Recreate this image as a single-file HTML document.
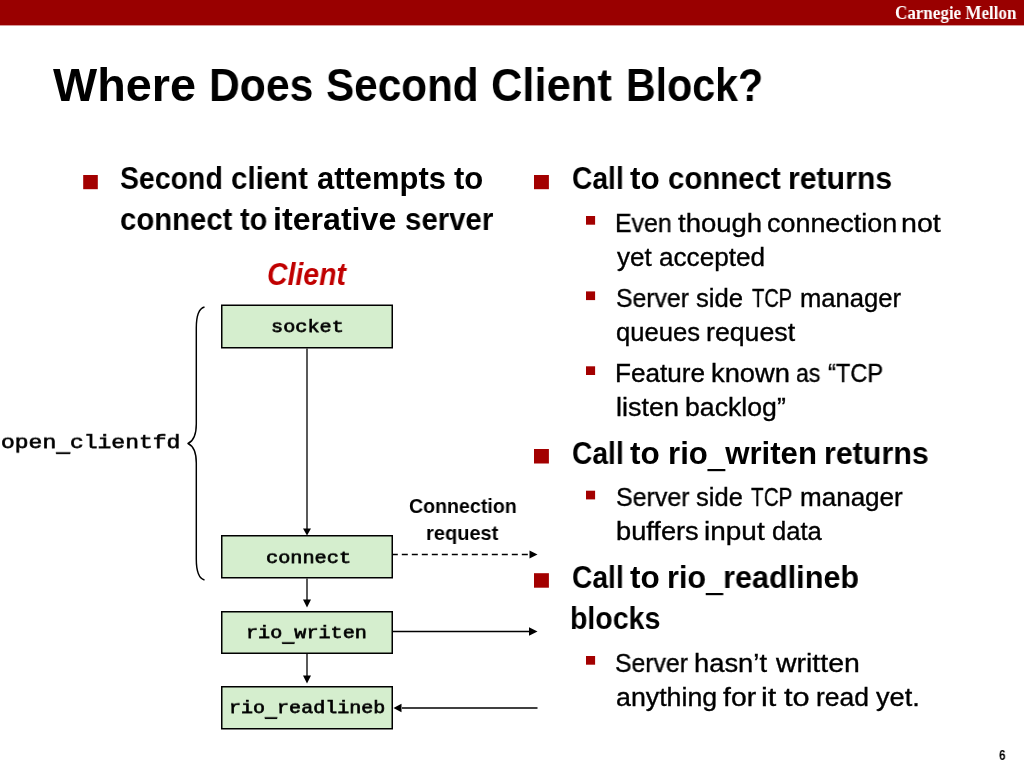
<!DOCTYPE html>
<html><head><meta charset="utf-8"><title>Where Does Second Client Block?</title>
<style>
html,body{margin:0;padding:0;background:#fff;}
body{width:1024px;height:768px;position:relative;overflow:hidden;}
.bar{position:absolute;left:0;top:0;width:1024px;height:25px;background:#990000;}
.dg{position:absolute;left:0;top:0;}
.t{position:absolute;white-space:pre;transform-origin:0 0;will-change:transform;}
.us{position:relative;top:1.5px;text-shadow:0 1px 0 #000;}
.u{position:relative;top:4px;text-shadow:0 1px 0 #000;}
</style></head><body>
<svg class="dg" width="1024" height="768" viewBox="0 0 1024 768">
<rect x="0" y="0" width="1024" height="25.4" fill="#990000"/>
<g fill="#d5eece" stroke="#000" stroke-width="1.5">
<rect x="221.75" y="305.25" width="170.5" height="42.5"/>
<rect x="221.75" y="535.75" width="170.5" height="42"/>
<rect x="221.75" y="611.75" width="170.5" height="41.5"/>
<rect x="221.75" y="686.75" width="170.5" height="42"/>
</g>
<g stroke="#000" stroke-width="1.3" fill="none">
<line x1="307" y1="348.5" x2="307" y2="529"/>
<line x1="307" y1="578.5" x2="307" y2="600"/>
<line x1="307" y1="653.5" x2="307" y2="676"/>
<line x1="393" y1="631.5" x2="530" y2="631.5"/>
<line x1="402" y1="708" x2="537.5" y2="708"/>
<line x1="393" y1="554.5" x2="530" y2="554.5" stroke-dasharray="6 4" stroke-dashoffset="1.2" stroke-width="1.5"/>
<path d="M204.5 307 C199.5 308.3 196.3 315 196.3 328 L196.3 424 C196.3 434 193.5 441 188 443.5 C193.5 446 196.3 453 196.3 463 L196.3 559 C196.3 572 199.5 578.7 204.5 580" stroke-width="1.45" stroke-linejoin="round"/>
</g>
<g fill="#000">
<path d="M303 528.5 L311 528.5 L307 535.5 Z"/>
<path d="M303 599.5 L311 599.5 L307 607.5 Z"/>
<path d="M303 675.5 L311 675.5 L307 683.5 Z"/>
<path d="M529 627.3 L537.5 631.5 L529 635.7 Z"/>
<path d="M529.5 550.6 L537.5 554.5 L529.5 558.4 Z"/>
<path d="M401.5 703.8 L393.5 708 L401.5 712.2 Z"/>
</g>
<g fill="#a30000">
<rect x="83.2" y="175" width="14.6" height="14.2"/>
<rect x="534" y="175" width="14.9" height="14.2"/>
<rect x="534" y="449" width="14.9" height="14.5"/>
<rect x="534" y="573.2" width="14.9" height="14.5"/>
<rect x="586" y="216" width="9.1" height="8.7"/>
<rect x="586" y="291.4" width="9.1" height="8.7"/>
<rect x="586" y="366.3" width="9.1" height="8.7"/>
<rect x="586" y="490.7" width="9.1" height="8.7"/>
<rect x="586" y="656" width="9.1" height="8.7"/>
</g>
</svg>
<div class="t" style='left:894.74px;top:5.00px;font-family:"Liberation Serif", serif;font-weight:bold;font-style:normal;font-size:17.9px;line-height:17.9px;color:#ffffff;transform:scaleX(0.9511)'>Carnegie Mellon</div>
<div class="t" style='left:53.25px;top:62.20px;font-family:"Liberation Sans", sans-serif;font-weight:bold;font-style:normal;font-size:46.5px;line-height:46.5px;color:#000;transform:scaleX(1.0057)'>Where</div>
<div class="t" style='left:208.58px;top:62.20px;font-family:"Liberation Sans", sans-serif;font-weight:bold;font-style:normal;font-size:46.5px;line-height:46.5px;color:#000;transform:scaleX(0.9181)'>Does</div>
<div class="t" style='left:325.59px;top:62.20px;font-family:"Liberation Sans", sans-serif;font-weight:bold;font-style:normal;font-size:46.5px;line-height:46.5px;color:#000;transform:scaleX(0.9087)'>Second</div>
<div class="t" style='left:490.64px;top:62.20px;font-family:"Liberation Sans", sans-serif;font-weight:bold;font-style:normal;font-size:46.5px;line-height:46.5px;color:#000;transform:scaleX(0.9354)'>Client</div>
<div class="t" style='left:626.18px;top:62.20px;font-family:"Liberation Sans", sans-serif;font-weight:bold;font-style:normal;font-size:46.5px;line-height:46.5px;color:#000;transform:scaleX(0.8841)'>Block?</div>
<div class="t" style='left:120.46px;top:164.20px;font-family:"Liberation Sans", sans-serif;font-weight:bold;font-style:normal;font-size:30.8px;line-height:30.8px;color:#000;transform:scaleX(0.9238)'>Second</div>
<div class="t" style='left:230.68px;top:164.20px;font-family:"Liberation Sans", sans-serif;font-weight:bold;font-style:normal;font-size:30.8px;line-height:30.8px;color:#000;transform:scaleX(0.9555)'>client</div>
<div class="t" style='left:316.72px;top:164.20px;font-family:"Liberation Sans", sans-serif;font-weight:bold;font-style:normal;font-size:30.8px;line-height:30.8px;color:#000;transform:scaleX(1.0053)'>attempts</div>
<div class="t" style='left:454.30px;top:164.20px;font-family:"Liberation Sans", sans-serif;font-weight:bold;font-style:normal;font-size:30.8px;line-height:30.8px;color:#000;transform:scaleX(1.0084)'>to</div>
<div class="t" style='left:119.98px;top:205.00px;font-family:"Liberation Sans", sans-serif;font-weight:bold;font-style:normal;font-size:30.8px;line-height:30.8px;color:#000;transform:scaleX(0.9515)'>connect</div>
<div class="t" style='left:240.00px;top:205.00px;font-family:"Liberation Sans", sans-serif;font-weight:bold;font-style:normal;font-size:30.8px;line-height:30.8px;color:#000;transform:scaleX(0.9407)'>to</div>
<div class="t" style='left:273.19px;top:205.00px;font-family:"Liberation Sans", sans-serif;font-weight:bold;font-style:normal;font-size:30.8px;line-height:30.8px;color:#000;transform:scaleX(1.0438)'>iterative</div>
<div class="t" style='left:405.48px;top:205.00px;font-family:"Liberation Sans", sans-serif;font-weight:bold;font-style:normal;font-size:30.8px;line-height:30.8px;color:#000;transform:scaleX(0.9551)'>server</div>
<div class="t" style='left:267.42px;top:259.60px;font-family:"Liberation Sans", sans-serif;font-weight:bold;font-style:italic;font-size:30.8px;line-height:30.8px;color:#c00000;transform:scaleX(0.9232)'>Client</div>
<div class="t" style='left:1.09px;top:430.90px;font-family:"Liberation Mono", monospace;font-style:normal;font-size:22.76px;line-height:22.76px;color:#000;font-weight:normal;-webkit-text-stroke:0.75px #000;transform:scale(1.0103,0.87);transform-origin:0 17.00px'>open<span class="u">_</span>clientfd</div>
<div class="t" style='left:271.48px;top:317.20px;font-family:"Liberation Mono", monospace;font-style:normal;font-size:19.91px;line-height:19.91px;color:#000;font-weight:normal;-webkit-text-stroke:0.75px #000;transform:scale(1.0155,0.87);transform-origin:0 15.00px'>socket</div>
<div class="t" style='left:265.58px;top:547.80px;font-family:"Liberation Mono", monospace;font-style:normal;font-size:19.91px;line-height:19.91px;color:#000;font-weight:normal;-webkit-text-stroke:0.75px #000;transform:scale(1.0175,0.87);transform-origin:0 15.00px'>connect</div>
<div class="t" style='left:246.18px;top:623.00px;font-family:"Liberation Mono", monospace;font-style:normal;font-size:19.91px;line-height:19.91px;color:#000;font-weight:normal;-webkit-text-stroke:0.75px #000;transform:scale(1.0118,0.87);transform-origin:0 15.00px'>rio<span class="u">_</span>writen</div>
<div class="t" style='left:228.99px;top:698.10px;font-family:"Liberation Mono", monospace;font-style:normal;font-size:19.91px;line-height:19.91px;color:#000;font-weight:normal;-webkit-text-stroke:0.75px #000;transform:scale(1.0061,0.87);transform-origin:0 15.00px'>rio<span class="u">_</span>readlineb</div>
<div class="t" style='left:409.24px;top:495.80px;font-family:"Liberation Sans", sans-serif;font-weight:bold;font-style:normal;font-size:20.5px;line-height:20.5px;color:#000;transform:scaleX(0.9556)'>Connection</div>
<div class="t" style='left:426.23px;top:522.70px;font-family:"Liberation Sans", sans-serif;font-weight:bold;font-style:normal;font-size:20.5px;line-height:20.5px;color:#000;transform:scaleX(0.9762)'>request</div>
<div class="t" style='left:571.52px;top:164.20px;font-family:"Liberation Sans", sans-serif;font-weight:bold;font-style:normal;font-size:30.8px;line-height:30.8px;color:#000;transform:scaleX(0.9161)'>Call</div>
<div class="t" style='left:630.40px;top:164.20px;font-family:"Liberation Sans", sans-serif;font-weight:bold;font-style:normal;font-size:30.8px;line-height:30.8px;color:#000;transform:scaleX(1.0227)'>to</div>
<div class="t" style='left:667.58px;top:164.20px;font-family:"Liberation Sans", sans-serif;font-weight:bold;font-style:normal;font-size:30.8px;line-height:30.8px;color:#000;transform:scaleX(0.9549)'>connect</div>
<div class="t" style='left:787.61px;top:164.20px;font-family:"Liberation Sans", sans-serif;font-weight:bold;font-style:normal;font-size:30.8px;line-height:30.8px;color:#000;transform:scaleX(0.9811)'>returns</div>
<div class="t" style='left:615.25px;top:210.80px;font-family:"Liberation Sans", sans-serif;font-weight:normal;font-style:normal;font-size:25.6px;line-height:25.6px;color:#000;transform:scaleX(0.9741);-webkit-text-stroke:0.35px #000'>Even</div>
<div class="t" style='left:677.98px;top:210.80px;font-family:"Liberation Sans", sans-serif;font-weight:normal;font-style:normal;font-size:25.6px;line-height:25.6px;color:#000;transform:scaleX(1.0738);-webkit-text-stroke:0.35px #000'>though</div>
<div class="t" style='left:766.95px;top:210.80px;font-family:"Liberation Sans", sans-serif;font-weight:normal;font-style:normal;font-size:25.6px;line-height:25.6px;color:#000;transform:scaleX(1.0513);-webkit-text-stroke:0.35px #000'>connection</div>
<div class="t" style='left:901.30px;top:210.80px;font-family:"Liberation Sans", sans-serif;font-weight:normal;font-style:normal;font-size:25.6px;line-height:25.6px;color:#000;transform:scaleX(1.1162);-webkit-text-stroke:0.35px #000'>not</div>
<div class="t" style='left:617.30px;top:244.80px;font-family:"Liberation Sans", sans-serif;font-weight:normal;font-style:normal;font-size:25.6px;line-height:25.6px;color:#000;transform:scaleX(1.0165);-webkit-text-stroke:0.35px #000'>yet</div>
<div class="t" style='left:658.68px;top:244.80px;font-family:"Liberation Sans", sans-serif;font-weight:normal;font-style:normal;font-size:25.6px;line-height:25.6px;color:#000;transform:scaleX(1.0201);-webkit-text-stroke:0.35px #000'>accepted</div>
<div class="t" style='left:615.73px;top:286.00px;font-family:"Liberation Sans", sans-serif;font-weight:normal;font-style:normal;font-size:25.6px;line-height:25.6px;color:#000;transform:scaleX(0.9692);-webkit-text-stroke:0.35px #000'>Server</div>
<div class="t" style='left:696.20px;top:286.00px;font-family:"Liberation Sans", sans-serif;font-weight:normal;font-style:normal;font-size:25.6px;line-height:25.6px;color:#000;transform:scaleX(1.0039);-webkit-text-stroke:0.35px #000'>side</div>
<div class="t" style='left:752.21px;top:286.00px;font-family:"Liberation Sans", sans-serif;font-weight:normal;font-style:normal;font-size:25.6px;line-height:25.6px;color:#000;transform:scaleX(0.7830);-webkit-text-stroke:0.35px #000'>TCP</div>
<div class="t" style='left:799.60px;top:286.00px;font-family:"Liberation Sans", sans-serif;font-weight:normal;font-style:normal;font-size:25.6px;line-height:25.6px;color:#000;transform:scaleX(1.0009);-webkit-text-stroke:0.35px #000'>manager</div>
<div class="t" style='left:615.80px;top:319.90px;font-family:"Liberation Sans", sans-serif;font-weight:normal;font-style:normal;font-size:25.6px;line-height:25.6px;color:#000;transform:scaleX(0.9989);-webkit-text-stroke:0.35px #000'>queues</div>
<div class="t" style='left:705.53px;top:319.90px;font-family:"Liberation Sans", sans-serif;font-weight:normal;font-style:normal;font-size:25.6px;line-height:25.6px;color:#000;transform:scaleX(1.0434);-webkit-text-stroke:0.35px #000'>request</div>
<div class="t" style='left:615.46px;top:361.00px;font-family:"Liberation Sans", sans-serif;font-weight:normal;font-style:normal;font-size:25.6px;line-height:25.6px;color:#000;transform:scaleX(1.0213);-webkit-text-stroke:0.35px #000'>Feature</div>
<div class="t" style='left:711.19px;top:361.00px;font-family:"Liberation Sans", sans-serif;font-weight:normal;font-style:normal;font-size:25.6px;line-height:25.6px;color:#000;transform:scaleX(1.0670);-webkit-text-stroke:0.35px #000'>known</div>
<div class="t" style='left:796.10px;top:361.00px;font-family:"Liberation Sans", sans-serif;font-weight:normal;font-style:normal;font-size:25.6px;line-height:25.6px;color:#000;transform:scaleX(0.8991);-webkit-text-stroke:0.35px #000'>as</div>
<div class="t" style='left:828.17px;top:361.00px;font-family:"Liberation Sans", sans-serif;font-weight:normal;font-style:normal;font-size:25.6px;line-height:25.6px;color:#000;transform:scaleX(0.9209);-webkit-text-stroke:0.35px #000'>“TCP</div>
<div class="t" style='left:615.81px;top:394.90px;font-family:"Liberation Sans", sans-serif;font-weight:normal;font-style:normal;font-size:25.6px;line-height:25.6px;color:#000;transform:scaleX(1.0527);-webkit-text-stroke:0.35px #000'>listen</div>
<div class="t" style='left:684.83px;top:394.90px;font-family:"Liberation Sans", sans-serif;font-weight:normal;font-style:normal;font-size:25.6px;line-height:25.6px;color:#000;transform:scaleX(1.0420);-webkit-text-stroke:0.35px #000'>backlog”</div>
<div class="t" style='left:571.52px;top:438.70px;font-family:"Liberation Sans", sans-serif;font-weight:bold;font-style:normal;font-size:30.8px;line-height:30.8px;color:#000;transform:scaleX(0.9161)'>Call</div>
<div class="t" style='left:630.40px;top:438.70px;font-family:"Liberation Sans", sans-serif;font-weight:bold;font-style:normal;font-size:30.8px;line-height:30.8px;color:#000;transform:scaleX(1.0227)'>to</div>
<div class="t" style='left:667.55px;top:438.70px;font-family:"Liberation Sans", sans-serif;font-weight:bold;font-style:normal;font-size:30.8px;line-height:30.8px;color:#000;transform:scaleX(1.0120)'>rio<span class="us">_</span>writen</div>
<div class="t" style='left:823.90px;top:438.70px;font-family:"Liberation Sans", sans-serif;font-weight:bold;font-style:normal;font-size:30.8px;line-height:30.8px;color:#000;transform:scaleX(0.9870)'>returns</div>
<div class="t" style='left:615.72px;top:485.30px;font-family:"Liberation Sans", sans-serif;font-weight:normal;font-style:normal;font-size:25.6px;line-height:25.6px;color:#000;transform:scaleX(0.9773);-webkit-text-stroke:0.35px #000'>Server</div>
<div class="t" style='left:696.10px;top:485.30px;font-family:"Liberation Sans", sans-serif;font-weight:normal;font-style:normal;font-size:25.6px;line-height:25.6px;color:#000;transform:scaleX(0.9972);-webkit-text-stroke:0.35px #000'>side</div>
<div class="t" style='left:751.20px;top:485.30px;font-family:"Liberation Sans", sans-serif;font-weight:normal;font-style:normal;font-size:25.6px;line-height:25.6px;color:#000;transform:scaleX(0.8093);-webkit-text-stroke:0.35px #000'>TCP</div>
<div class="t" style='left:799.67px;top:485.30px;font-family:"Liberation Sans", sans-serif;font-weight:normal;font-style:normal;font-size:25.6px;line-height:25.6px;color:#000;transform:scaleX(1.0171);-webkit-text-stroke:0.35px #000'>manager</div>
<div class="t" style='left:616.00px;top:519.40px;font-family:"Liberation Sans", sans-serif;font-weight:normal;font-style:normal;font-size:25.6px;line-height:25.6px;color:#000;transform:scaleX(1.0637);-webkit-text-stroke:0.35px #000'>buffers</div>
<div class="t" style='left:703.74px;top:519.40px;font-family:"Liberation Sans", sans-serif;font-weight:normal;font-style:normal;font-size:25.6px;line-height:25.6px;color:#000;transform:scaleX(1.0931);-webkit-text-stroke:0.35px #000'>input</div>
<div class="t" style='left:772.00px;top:519.40px;font-family:"Liberation Sans", sans-serif;font-weight:normal;font-style:normal;font-size:25.6px;line-height:25.6px;color:#000;transform:scaleX(1.0003);-webkit-text-stroke:0.35px #000'>data</div>
<div class="t" style='left:571.52px;top:562.80px;font-family:"Liberation Sans", sans-serif;font-weight:bold;font-style:normal;font-size:30.8px;line-height:30.8px;color:#000;transform:scaleX(0.9161)'>Call</div>
<div class="t" style='left:630.40px;top:562.80px;font-family:"Liberation Sans", sans-serif;font-weight:bold;font-style:normal;font-size:30.8px;line-height:30.8px;color:#000;transform:scaleX(1.0227)'>to</div>
<div class="t" style='left:666.99px;top:562.80px;font-family:"Liberation Sans", sans-serif;font-weight:bold;font-style:normal;font-size:30.8px;line-height:30.8px;color:#000;transform:scaleX(0.9933)'>rio<span class="us">_</span>readlineb</div>
<div class="t" style='left:570.22px;top:603.60px;font-family:"Liberation Sans", sans-serif;font-weight:bold;font-style:normal;font-size:30.8px;line-height:30.8px;color:#000;transform:scaleX(0.9258)'>blocks</div>
<div class="t" style='left:615.43px;top:650.70px;font-family:"Liberation Sans", sans-serif;font-weight:normal;font-style:normal;font-size:25.6px;line-height:25.6px;color:#000;transform:scaleX(0.9692);-webkit-text-stroke:0.35px #000'>Server</div>
<div class="t" style='left:694.38px;top:650.70px;font-family:"Liberation Sans", sans-serif;font-weight:normal;font-style:normal;font-size:25.6px;line-height:25.6px;color:#000;transform:scaleX(1.0692);-webkit-text-stroke:0.35px #000'>hasn’t</div>
<div class="t" style='left:775.51px;top:650.70px;font-family:"Liberation Sans", sans-serif;font-weight:normal;font-style:normal;font-size:25.6px;line-height:25.6px;color:#000;transform:scaleX(1.1115);-webkit-text-stroke:0.35px #000'>written</div>
<div class="t" style='left:615.95px;top:684.70px;font-family:"Liberation Sans", sans-serif;font-weight:normal;font-style:normal;font-size:25.6px;line-height:25.6px;color:#000;transform:scaleX(1.0451);-webkit-text-stroke:0.35px #000'>anything</div>
<div class="t" style='left:723.07px;top:684.70px;font-family:"Liberation Sans", sans-serif;font-weight:normal;font-style:normal;font-size:25.6px;line-height:25.6px;color:#000;transform:scaleX(1.1081);-webkit-text-stroke:0.35px #000'>for</div>
<div class="t" style='left:761.27px;top:684.70px;font-family:"Liberation Sans", sans-serif;font-weight:normal;font-style:normal;font-size:25.6px;line-height:25.6px;color:#000;transform:scaleX(1.1923);-webkit-text-stroke:0.35px #000'>it</div>
<div class="t" style='left:784.02px;top:684.70px;font-family:"Liberation Sans", sans-serif;font-weight:normal;font-style:normal;font-size:25.6px;line-height:25.6px;color:#000;transform:scaleX(1.2000);-webkit-text-stroke:0.35px #000'>to</div>
<div class="t" style='left:815.94px;top:684.70px;font-family:"Liberation Sans", sans-serif;font-weight:normal;font-style:normal;font-size:25.6px;line-height:25.6px;color:#000;transform:scaleX(1.0334);-webkit-text-stroke:0.35px #000'>read</div>
<div class="t" style='left:876.30px;top:684.70px;font-family:"Liberation Sans", sans-serif;font-weight:normal;font-style:normal;font-size:25.6px;line-height:25.6px;color:#000;transform:scaleX(1.0603);-webkit-text-stroke:0.35px #000'>yet.</div>
<div class="t" style='left:999.30px;top:747.60px;font-family:"Liberation Sans", sans-serif;font-weight:bold;font-style:normal;font-size:14.8px;line-height:14.8px;color:#000;transform:scaleX(0.7917)'>6</div>
</body></html>
